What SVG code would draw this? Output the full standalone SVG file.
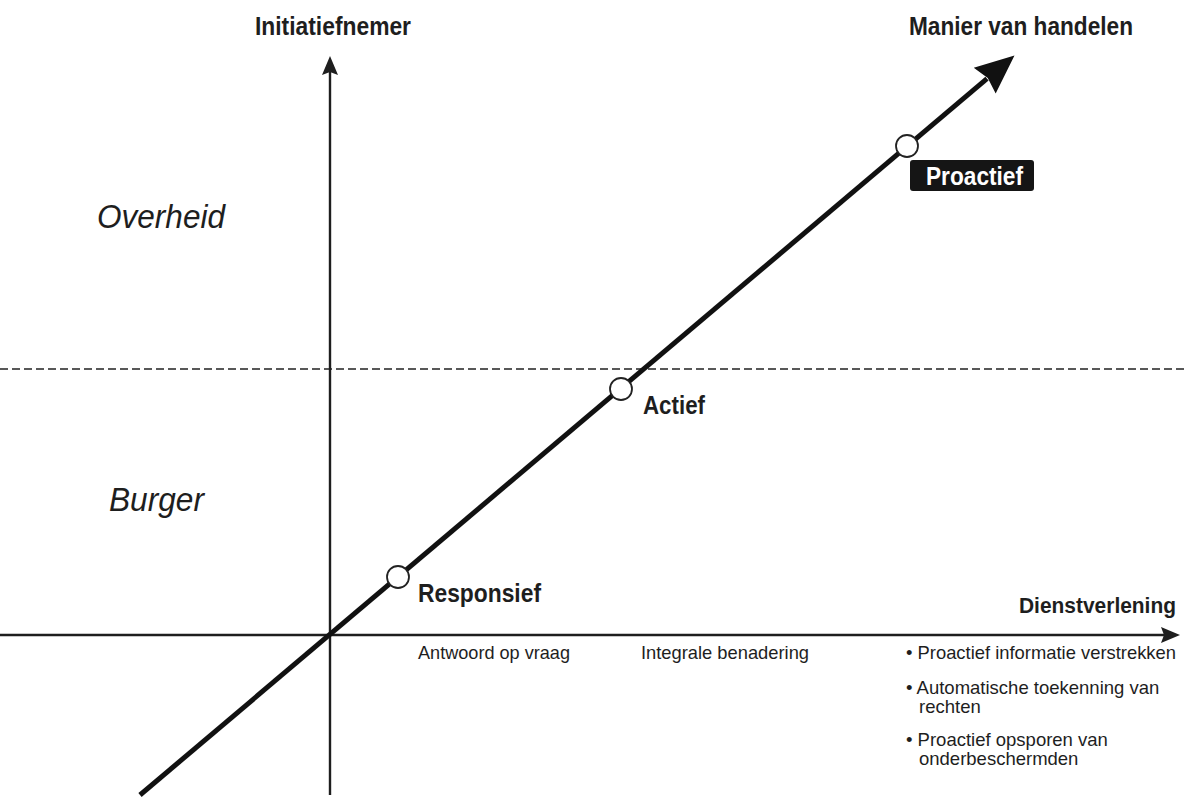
<svg xmlns="http://www.w3.org/2000/svg" width="1186" height="798" viewBox="0 0 1186 798">
  <style>
    .bold { font-family: "Liberation Sans", Arial, sans-serif; font-weight: bold; font-size: 25px; fill: #1e1e1e; }
    .ital { font-family: "Liberation Sans", Arial, sans-serif; font-style: italic; font-size: 33px; fill: #1e1e1e; }
    .reg { font-family: "Liberation Sans", Arial, sans-serif; font-size: 18.5px; fill: #1e1e1e; }
    .axis { stroke: #1e1e1e; stroke-width: 2.4; fill: none; }
    .diag { stroke: #111; stroke-width: 5; fill: none; }
    .dash { stroke: #222; stroke-width: 1.3; stroke-dasharray: 8 4; fill: none; }
    .dot { fill: #fff; stroke: #222; stroke-width: 1.8; }
  </style>
  <defs>
    <marker id="axisHead" markerUnits="userSpaceOnUse" markerWidth="30" markerHeight="30" refX="0" refY="0" orient="auto" overflow="visible">
      <path d="M16,0 L-3,-8 L0,0 L-3,8 Z" fill="#1e1e1e"/>
    </marker>
    <marker id="bigHead" markerUnits="userSpaceOnUse" markerWidth="60" markerHeight="60" refX="0" refY="0" orient="auto" overflow="visible">
      <path d="M36,0 L-3,-17 L1,0 L-3,17 Z" fill="#111"/>
    </marker>
  </defs>
  <rect width="1186" height="798" fill="#fff"/>

  <g id="connectors">
    <line class="dash" x1="0" y1="369" x2="1186" y2="369"/>
    <line id="x-axis" class="axis" x1="0" y1="635" x2="1164" y2="635" marker-end="url(#axisHead)"/>
    <line id="y-axis" class="axis" x1="330" y1="795" x2="330" y2="72" marker-end="url(#axisHead)"/>
    <line id="diagonal" class="diag" x1="140" y1="795" x2="987" y2="78.7" marker-end="url(#bigHead)"/>
  </g>

  <g id="axis-labels">
    <text class="bold" x="255" y="35" textLength="156" lengthAdjust="spacingAndGlyphs">Initiatiefnemer</text>
    <text class="bold" x="909" y="35" textLength="224" lengthAdjust="spacingAndGlyphs">Manier van handelen</text>
    <text class="bold" x="1019" y="613" textLength="157" lengthAdjust="spacingAndGlyphs" style="font-size:22px">Dienstverlening</text>
  </g>

  <g id="zones">
    <text class="ital" x="97" y="228" textLength="128" lengthAdjust="spacingAndGlyphs">Overheid</text>
    <text class="ital" x="109" y="511" textLength="95" lengthAdjust="spacingAndGlyphs">Burger</text>
  </g>

  <g id="node-responsief">
    <circle class="dot" cx="398" cy="577" r="11"/>
    <text class="bold" x="418" y="602" textLength="123" lengthAdjust="spacingAndGlyphs">Responsief</text>
  </g>

  <g id="node-actief">
    <circle class="dot" cx="621" cy="389" r="11"/>
    <text class="bold" x="643" y="414" textLength="62" lengthAdjust="spacingAndGlyphs">Actief</text>
  </g>

  <g id="node-proactief">
    <circle class="dot" cx="907" cy="146" r="11"/>
    <rect x="910" y="160" width="124" height="31" rx="3" fill="#151515"/>
    <text class="bold" x="926" y="185" textLength="97" lengthAdjust="spacingAndGlyphs" style="fill:#fff">Proactief</text>
  </g>

  <g id="descriptions">
    <text class="reg" x="418" y="659" textLength="152" lengthAdjust="spacingAndGlyphs">Antwoord op vraag</text>
    <text class="reg" x="641" y="659" textLength="168" lengthAdjust="spacingAndGlyphs">Integrale benadering</text>
    <text class="reg" x="906" y="659" textLength="270" lengthAdjust="spacingAndGlyphs">• Proactief informatie verstrekken</text>
    <text class="reg" x="906" y="694">• Automatische toekenning van</text>
    <text class="reg" x="919" y="713">rechten</text>
    <text class="reg" x="906" y="746">• Proactief opsporen van</text>
    <text class="reg" x="919" y="765">onderbeschermden</text>
  </g>
</svg>
